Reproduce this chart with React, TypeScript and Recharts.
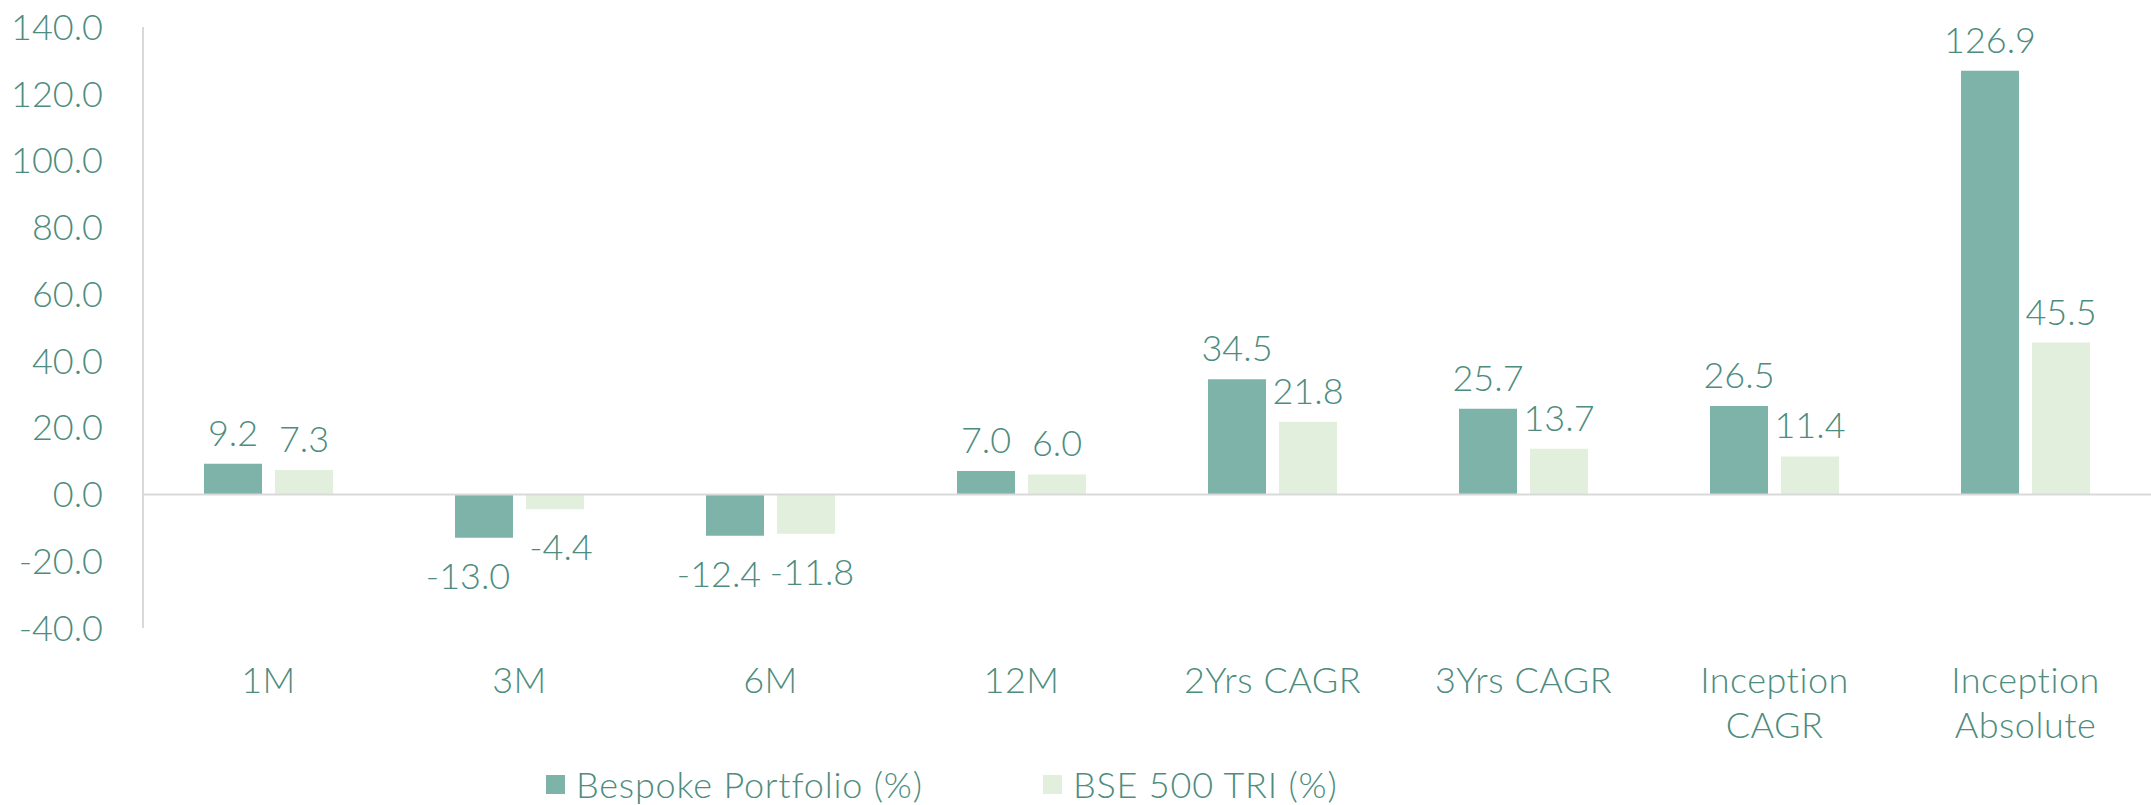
import React from "react"
import { BarChart, Bar, XAxis, YAxis, ReferenceLine, LabelList } from "recharts"

const categories = ["1M", "3M", "6M", "12M", "2Yrs CAGR", "3Yrs CAGR", "Inception CAGR", "Inception Absolute"]
const tickLabels = [["1M"], ["3M"], ["6M"], ["12M"], ["2Yrs CAGR"], ["3Yrs CAGR"], ["Inception", "CAGR"], ["Inception", "Absolute"]]
const bespoke = [9.2, -13.0, -12.4, 7.0, 34.5, 25.7, 26.5, 126.9]
const bse500 = [7.3, -4.4, -11.8, 6.0, 21.8, 13.7, 11.4, 45.5]
const yTicks = [-40, -20, 0, 20, 40, 60, 80, 100, 120, 140]

const TEXT = "#4d8c7e"
const BESPOKE = "#7db3a8"
const BSE = "#e2efdc"
const FONT = "Lato, 'Noto Sans', sans-serif"
const FS = 36
const FW = 300

const data = categories.map((name, i) => ({ name, bespoke: bespoke[i], bse: bse500[i] }))

function CategoryTick(props: any) {
  const { x, y, payload } = props
  const lines = tickLabels[payload.index] || [payload.value]
  return (
    <text x={x} y={y} textAnchor="middle" fill={TEXT} fontSize={FS} fontFamily={FONT} fontWeight={FW} letterSpacing={0.5}>
      {lines.map((l: string, i: number) => (
        <tspan key={i} x={x} y={y + 51 + i * 45} dominantBaseline="central">{l}</tspan>
      ))}
    </text>
  )
}

// negative labels get pushed sideways a little, like the original, so pairs don't collide
function makeLabel(shift: number) {
  return function ValueLabel(props: any) {
    const { x, y, width, height, value } = props
    const top = Math.min(y, y + height)
    const bottom = Math.max(y, y + height)
    const cy = value >= 0 ? top - 32 : bottom + 37
    const dx = value >= 0 ? 0 : shift
    return (
      <text x={x + width / 2 + dx} y={cy} textAnchor="middle" dominantBaseline="central" fill={TEXT} fontSize={FS} fontFamily={FONT} fontWeight={FW}>
        {value.toFixed(1)}
      </text>
    )
  }
}
const BespokeLabel = makeLabel(-16)
const BseLabel = makeLabel(6)

export default function App() {
  return (
    <div style={{ position: "absolute", left: 0, top: 0, width: 2151, height: 805, background: "#fff" }}>
      <BarChart width={2151} height={805} data={data} margin={{ top: 27, right: 0, left: 0, bottom: 67 }} barSize={58} barGap={13}>
        <YAxis
          domain={[-40, 140]}
          ticks={yTicks}
          interval={0}
          width={143}
          tickFormatter={(v: number) => v.toFixed(1)}
          tick={{ fill: TEXT, fontSize: FS, fontFamily: FONT, fontWeight: FW }}
          tickLine={false}
          tickSize={0}
          tickMargin={40}
          axisLine={{ stroke: "#d9d9d9", strokeWidth: 2 }}
        />
        <XAxis
          dataKey="name"
          interval={0}
          axisLine={false}
          tickLine={false}
          tickSize={0}
          tickMargin={0}
          height={110}
          tick={<CategoryTick />}
        />
        <ReferenceLine y={0} stroke="#d9d9d9" strokeWidth={2} />
        <Bar dataKey="bespoke" fill={BESPOKE} isAnimationActive={false}>
          <LabelList dataKey="bespoke" content={<BespokeLabel />} />
        </Bar>
        <Bar dataKey="bse" fill={BSE} isAnimationActive={false}>
          <LabelList dataKey="bse" content={<BseLabel />} />
        </Bar>
      </BarChart>
      <div style={{ position: "absolute", left: 546, top: 762, display: "flex", alignItems: "center", fontFamily: FONT, fontSize: FS, fontWeight: FW, color: TEXT, whiteSpace: "nowrap", letterSpacing: 0.8 }}>
        <span style={{ width: 19, height: 19, background: BESPOKE, display: "inline-block", marginRight: 11 }} />
        <span>Bespoke Portfolio (%)</span>
      </div>
      <div style={{ position: "absolute", left: 1043, top: 762, display: "flex", alignItems: "center", fontFamily: FONT, fontSize: FS, fontWeight: FW, color: TEXT, whiteSpace: "nowrap", letterSpacing: 0.8 }}>
        <span style={{ width: 19, height: 19, background: BSE, display: "inline-block", marginRight: 11 }} />
        <span>BSE 500 TRI (%)</span>
      </div>
    </div>
  )
}
